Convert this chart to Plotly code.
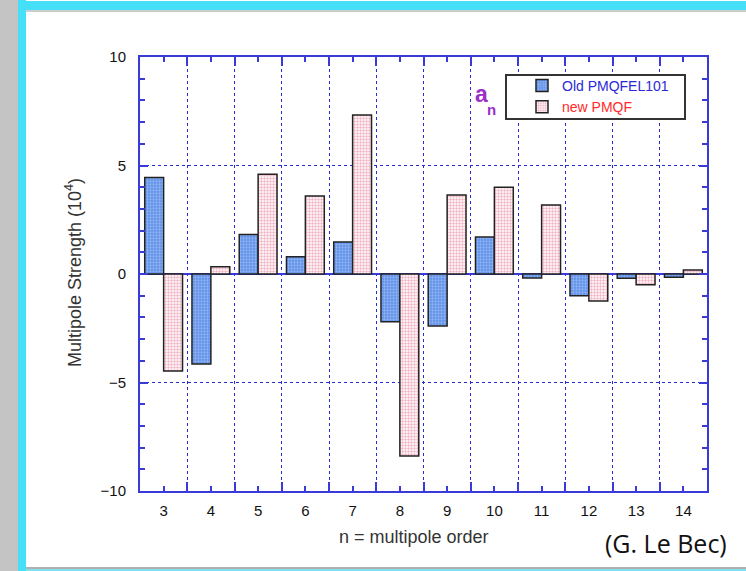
import plotly.graph_objects as go

# Multipole order n (a_n coefficients)
orders = [3, 4, 5, 6, 7, 8, 9, 10, 11, 12, 13, 14]
old_pmqfel101 = [4.45, -4.15, 1.82, 0.80, 1.48, -2.20, -2.40, 1.70, -0.18, -1.00, -0.20, -0.15]
new_pmqf = [-4.47, 0.33, 4.60, 3.60, 7.33, -8.39, 3.64, 4.00, 3.18, -1.24, -0.50, 0.18]
y_ticks = [-10, -5, 0, 5, 10]

W, H = 746, 571
ML, MR, MT, MB = 140, 39, 57, 80
PW, PH = W - ML - MR, H - MT - MB


def fx(px):
    return (px - ML) / PW


def fy(py):
    return (H - MB - py) / PH


AXIS_BLUE = "#3a3ad8"
GRID_BLUE = "#2a2ad0"
SANS = "Liberation Sans, Arial, sans-serif"

fig = go.Figure()
fig.add_bar(
    x=orders, y=old_pmqfel101,
    name="<span style='color:#2b2bd6'>Old PMQFEL101</span>",
    marker=dict(
        color="#6f9cee",
        line=dict(color="#222222", width=1.5),
        pattern=dict(shape=".", bgcolor="#5f90e8", fgcolor="#c2d8ff", size=3, solidity=0.45),
    ),
)
fig.add_bar(
    x=orders, y=new_pmqf,
    name="<span style='color:#ff2a2a'>new PMQF</span>",
    marker=dict(
        color="#f0b0c0",
        line=dict(color="#222222", width=1.5),
        pattern=dict(shape=".", bgcolor="#ffffff", fgcolor="#e26a8c", size=3, solidity=0.5),
    ),
)

tick_font = dict(family=SANS, size=15, color="#111111")

fig.update_xaxes(
    range=[2.5, 14.5],
    tickvals=orders,
    ticktext=[str(o) for o in orders],
    ticks="inside", ticklen=5, tickwidth=1.5, tickcolor=AXIS_BLUE,
    showgrid=False, zeroline=False,
    showline=True, linecolor=AXIS_BLUE, linewidth=2, mirror="ticks",
    tickfont=tick_font,
    ticklabelstandoff=5,
    minor=dict(
        tickvals=[o + 0.5 for o in orders[:-1]],
        ticks="inside", ticklen=9, tickwidth=1.5, tickcolor=AXIS_BLUE,
        showgrid=True, gridcolor=GRID_BLUE, griddash="dot", gridwidth=1,
    ),
)
fig.update_yaxes(
    range=[-10, 10],
    tickvals=y_ticks,
    ticks="inside", ticklen=8, tickwidth=1.5, tickcolor=AXIS_BLUE,
    showgrid=True, gridcolor=GRID_BLUE, griddash="dot", gridwidth=1,
    zeroline=True, zerolinecolor=AXIS_BLUE, zerolinewidth=1.5,
    showline=True, linecolor=AXIS_BLUE, linewidth=2, mirror="ticks",
    tickfont=tick_font,
    ticklabelstandoff=9,
    minor=dict(dtick=1, tick0=0, ticks="inside", ticklen=5, tickwidth=1.5, tickcolor=AXIS_BLUE, showgrid=False),
)

# slide frame around the chart
frame = [
    dict(x0=0, x1=18, y0=0, y1=H, color="#c4c4c4"),
    dict(x0=18, x1=26, y0=0, y1=H, color="#45e0f8"),
    dict(x0=18, x1=W, y0=1, y1=10, color="#45e0f8"),
    dict(x0=26, x1=W, y0=10, y1=12, color="#cccccc"),
    dict(x0=26, x1=W, y0=567, y1=569, color="#b0b0b0"),
    dict(x0=26, x1=W, y0=569, y1=H, color="#7fe0ee"),
]
shapes = []
for r in frame:
    shapes.append(dict(
        type="rect", xref="paper", yref="paper",
        x0=fx(r["x0"]), x1=fx(r["x1"]), y0=fy(r["y1"]), y1=fy(r["y0"]),
        fillcolor=r["color"], line=dict(width=0), layer="above",
    ))
# legend box
shapes.append(dict(
    type="rect", xref="paper", yref="paper",
    x0=fx(506), x1=fx(685), y0=fy(119), y1=fy(75),
    fillcolor="white", line=dict(color="#333333", width=2), layer="above",
))

annotations = [
    dict(text="Multipole Strength (10<sup>4</sup>)", x=fx(73), y=fy(273), xref="paper", yref="paper",
         textangle=-90, showarrow=False, xanchor="center", yanchor="middle",
         font=dict(family=SANS, size=18, color="#333333")),
    dict(text="n = multipole order", x=fx(414), y=fy(537), xref="paper", yref="paper",
         showarrow=False, xanchor="center", yanchor="middle",
         font=dict(family=SANS, size=18, color="#333333")),
    dict(text="(G. Le Bec)", x=fx(666), y=fy(543), xref="paper", yref="paper",
         showarrow=False, xanchor="center", yanchor="middle",
         font=dict(family="Open Sans, sans-serif", size=25, color="#111111")),
    dict(text="<b>a</b>", x=fx(481), y=fy(94), xref="paper", yref="paper",
         showarrow=False, xanchor="center", yanchor="middle",
         font=dict(family=SANS, size=23, color="#9a30c8")),
    dict(text="<b>n</b>", x=fx(491), y=fy(109), xref="paper", yref="paper",
         showarrow=False, xanchor="center", yanchor="middle",
         font=dict(family=SANS, size=15, color="#9a30c8")),
]

fig.update_layout(
    width=W, height=H,
    margin=dict(l=ML, r=MR, t=MT, b=MB),
    paper_bgcolor="white", plot_bgcolor="white",
    barmode="group", bargap=0.2, bargroupgap=0,
    showlegend=True,
    legend=dict(
        x=fx(522), y=fy(70), xanchor="left", yanchor="top",
        bgcolor="rgba(0,0,0,0)", borderwidth=0,
        font=dict(family=SANS, size=14),
        tracegroupgap=0,
    ),
    shapes=shapes,
    annotations=annotations,
)

fig.write_html("out.html")
